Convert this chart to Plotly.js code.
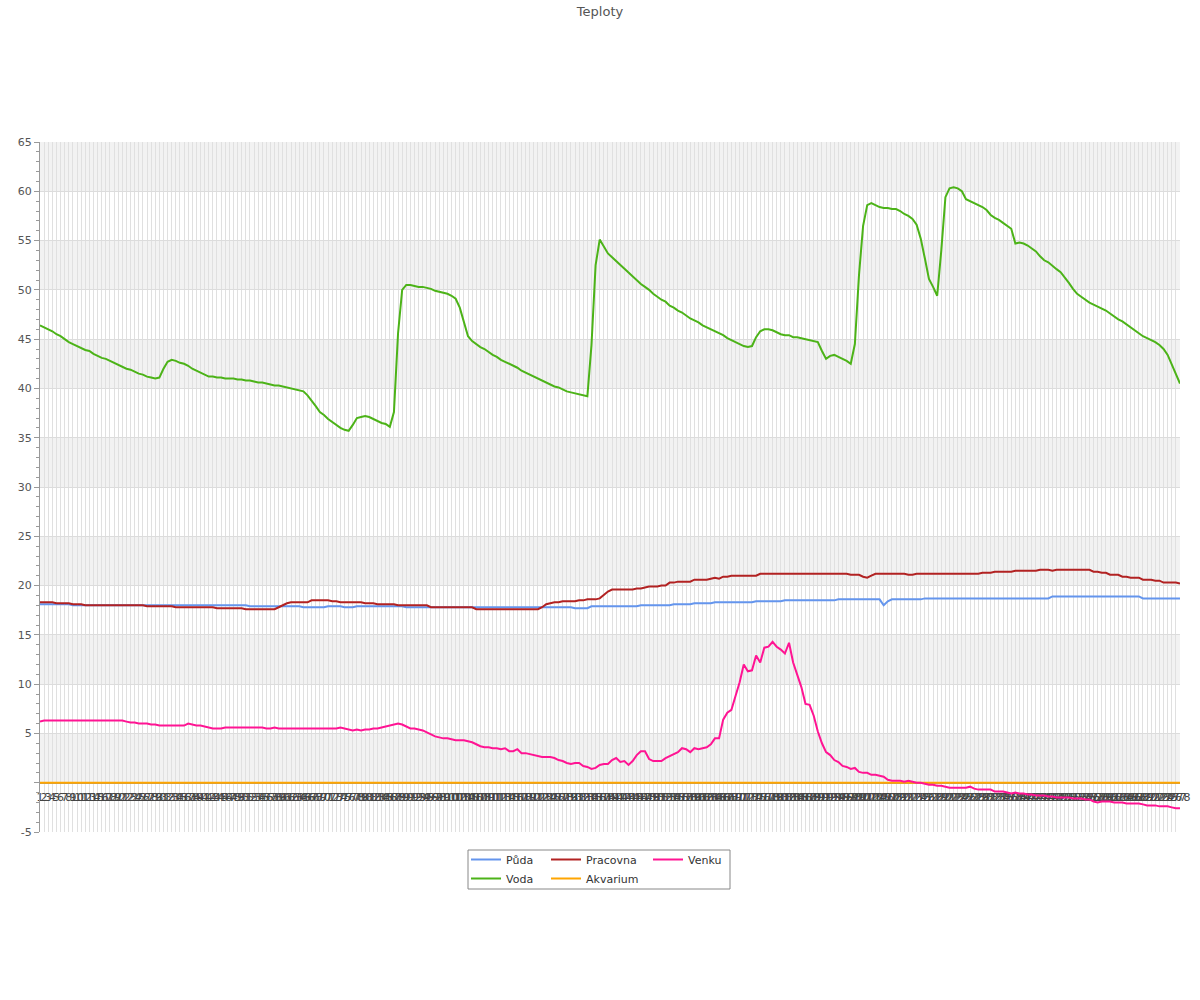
<!DOCTYPE html>
<html>
<head>
<meta charset="utf-8">
<script src="https://cdn.plot.ly/plotly-3.0.1.min.js"></script>
<style>html,body{margin:0;padding:0;background:#fff;}#chart{width:1200px;height:1000px;}</style>
</head>
<body>
<div id="chart"></div>
<script>
const seriesNames = ["Půda", "Voda", "Pracovna", "Akvarium", "Venku"];

const puda = [
18.1,18.1,18.1,18.1,18.1,18.1,18.1,18.1,18.0,18.0,
18.0,18.0,18.0,18.0,18.0,18.0,18.0,18.0,18.0,18.0,
18.0,18.0,18.0,18.0,18.0,18.0,18.0,18.0,18.0,18.0,
18.0,18.0,18.0,18.0,18.0,18.0,18.0,18.0,18.0,18.0,
18.0,18.0,18.0,18.0,18.0,18.0,18.0,18.0,18.0,18.0,
18.0,17.9,17.9,17.9,17.9,17.9,17.9,17.9,17.9,17.9,
17.9,17.9,17.9,17.9,17.8,17.8,17.8,17.8,17.8,17.8,
17.9,17.9,17.9,17.9,17.8,17.8,17.8,17.9,17.9,17.9,
17.9,17.9,17.9,17.9,17.9,17.9,17.9,17.9,17.9,17.8,
17.8,17.8,17.8,17.8,17.8,17.8,17.8,17.8,17.8,17.8,
17.8,17.8,17.8,17.8,17.8,17.8,17.8,17.8,17.8,17.8,
17.8,17.8,17.8,17.8,17.8,17.8,17.8,17.8,17.8,17.8,
17.8,17.8,17.8,17.8,17.8,17.8,17.8,17.8,17.8,17.8,
17.7,17.7,17.7,17.7,17.9,17.9,17.9,17.9,17.9,17.9,
17.9,17.9,17.9,17.9,17.9,17.9,18.0,18.0,18.0,18.0,
18.0,18.0,18.0,18.0,18.1,18.1,18.1,18.1,18.1,18.2,
18.2,18.2,18.2,18.2,18.3,18.3,18.3,18.3,18.3,18.3,
18.3,18.3,18.3,18.3,18.4,18.4,18.4,18.4,18.4,18.4,
18.4,18.5,18.5,18.5,18.5,18.5,18.5,18.5,18.5,18.5,
18.5,18.5,18.5,18.5,18.6,18.6,18.6,18.6,18.6,18.6,
18.6,18.6,18.6,18.6,18.6,18.0,18.4,18.6,18.6,18.6,
18.6,18.6,18.6,18.6,18.6,18.7,18.7,18.7,18.7,18.7,
18.7,18.7,18.7,18.7,18.7,18.7,18.7,18.7,18.7,18.7,
18.7,18.7,18.7,18.7,18.7,18.7,18.7,18.7,18.7,18.7,
18.7,18.7,18.7,18.7,18.7,18.7,18.9,18.9,18.9,18.9,
18.9,18.9,18.9,18.9,18.9,18.9,18.9,18.9,18.9,18.9,
18.9,18.9,18.9,18.9,18.9,18.9,18.9,18.9,18.7,18.7,
18.7,18.7,18.7,18.7,18.7,18.7,18.7,18.7
];

const voda = [
46.4,46.2,46.0,45.8,45.5,45.3,45.0,44.7,44.5,44.3,
44.1,43.9,43.8,43.5,43.3,43.1,43.0,42.8,42.6,42.4,
42.2,42.0,41.9,41.7,41.5,41.4,41.2,41.1,41.0,41.1,
42.0,42.7,42.9,42.8,42.6,42.5,42.3,42.0,41.8,41.6,
41.4,41.2,41.2,41.1,41.1,41.0,41.0,41.0,40.9,40.9,
40.8,40.8,40.7,40.6,40.6,40.5,40.4,40.3,40.3,40.2,
40.1,40.0,39.9,39.8,39.7,39.3,38.8,38.2,37.6,37.3,
36.9,36.6,36.3,36.0,35.8,35.7,36.3,37.0,37.1,37.2,
37.1,36.9,36.7,36.5,36.4,36.1,37.6,45.6,50.0,50.5,
50.5,50.4,50.3,50.3,50.2,50.1,49.9,49.8,49.7,49.6,
49.4,49.1,48.2,46.8,45.3,44.8,44.5,44.2,44.0,43.7,
43.4,43.2,42.9,42.7,42.5,42.3,42.1,41.8,41.6,41.4,
41.2,41.0,40.8,40.6,40.4,40.2,40.1,39.9,39.7,39.6,
39.5,39.4,39.3,39.2,44.4,52.5,55.1,54.4,53.7,53.3,
52.9,52.5,52.1,51.7,51.3,50.9,50.6,50.3,50.0,49.6,
49.3,49.0,48.8,48.4,48.2,47.9,47.7,47.4,47.1,46.9,
46.7,46.4,46.2,46.0,45.8,45.6,45.4,45.1,44.9,44.7,
44.5,44.3,44.2,44.3,45.2,45.8,46.0,46.0,45.9,45.7,
45.5,45.4,45.4,45.2,45.2,45.1,45.0,44.9,44.8,44.7,
43.8,43.0,43.3,43.4,43.2,43.0,42.8,42.5,44.5,51.5,
56.5,58.6,58.8,58.6,58.4,58.3,58.3,58.2,58.2,58.0,
57.7,57.5,57.2,56.6,55.2,53.2,51.1,50.3,49.4,54.0,
59.4,60.3,60.4,60.3,60.0,59.2,59.0,58.8,58.6,58.4,
58.1,57.6,57.3,57.1,56.8,56.5,56.2,54.7,54.8,54.7,
54.5,54.2,53.9,53.4,53.0,52.8,52.4,52.1,51.8,51.3,
50.7,50.1,49.6,49.3,49.0,48.7,48.5,48.3,48.1,47.9,
47.6,47.3,47.0,46.8,46.5,46.2,45.9,45.6,45.3,45.1,
44.9,44.7,44.4,44.0,43.4,42.4,41.5,40.5
];

const pracovna = [
18.3,18.3,18.3,18.3,18.2,18.2,18.2,18.2,18.1,18.1,
18.1,18.0,18.0,18.0,18.0,18.0,18.0,18.0,18.0,18.0,
18.0,18.0,18.0,18.0,18.0,18.0,17.9,17.9,17.9,17.9,
17.9,17.9,17.9,17.8,17.8,17.8,17.8,17.8,17.8,17.8,
17.8,17.8,17.8,17.7,17.7,17.7,17.7,17.7,17.7,17.7,
17.6,17.6,17.6,17.6,17.6,17.6,17.6,17.6,17.8,18.0,
18.2,18.3,18.3,18.3,18.3,18.3,18.5,18.5,18.5,18.5,
18.5,18.4,18.4,18.3,18.3,18.3,18.3,18.3,18.3,18.2,
18.2,18.2,18.1,18.1,18.1,18.1,18.1,18.0,18.0,18.0,
18.0,18.0,18.0,18.0,18.0,17.8,17.8,17.8,17.8,17.8,
17.8,17.8,17.8,17.8,17.8,17.8,17.6,17.6,17.6,17.6,
17.6,17.6,17.6,17.6,17.6,17.6,17.6,17.6,17.6,17.6,
17.6,17.6,17.8,18.1,18.2,18.3,18.3,18.4,18.4,18.4,
18.4,18.5,18.5,18.6,18.6,18.6,18.7,19.1,19.4,19.6,
19.6,19.6,19.6,19.6,19.6,19.7,19.7,19.8,19.9,19.9,
19.9,20.0,20.0,20.3,20.3,20.4,20.4,20.4,20.4,20.6,
20.6,20.6,20.6,20.7,20.8,20.7,20.9,20.9,21.0,21.0,
21.0,21.0,21.0,21.0,21.0,21.2,21.2,21.2,21.2,21.2,
21.2,21.2,21.2,21.2,21.2,21.2,21.2,21.2,21.2,21.2,
21.2,21.2,21.2,21.2,21.2,21.2,21.2,21.1,21.1,21.1,
20.9,20.8,21.0,21.2,21.2,21.2,21.2,21.2,21.2,21.2,
21.2,21.1,21.1,21.2,21.2,21.2,21.2,21.2,21.2,21.2,
21.2,21.2,21.2,21.2,21.2,21.2,21.2,21.2,21.2,21.3,
21.3,21.3,21.4,21.4,21.4,21.4,21.4,21.5,21.5,21.5,
21.5,21.5,21.5,21.6,21.6,21.6,21.5,21.6,21.6,21.6,
21.6,21.6,21.6,21.6,21.6,21.6,21.4,21.4,21.3,21.3,
21.1,21.1,21.1,20.9,20.9,20.8,20.8,20.8,20.6,20.6,
20.6,20.5,20.5,20.3,20.3,20.3,20.3,20.2
];

const akvarium = [
0,0,0,0,0,0,0,0,0,0, 0,0,0,0,0,0,0,0,0,0, 0,0,0,0,0,0,0,0,0,0,
0,0,0,0,0,0,0,0,0,0, 0,0,0,0,0,0,0,0,0,0, 0,0,0,0,0,0,0,0,0,0,
0,0,0,0,0,0,0,0,0,0, 0,0,0,0,0,0,0,0,0,0, 0,0,0,0,0,0,0,0,0,0,
0,0,0,0,0,0,0,0,0,0, 0,0,0,0,0,0,0,0,0,0, 0,0,0,0,0,0,0,0,0,0,
0,0,0,0,0,0,0,0,0,0, 0,0,0,0,0,0,0,0,0,0, 0,0,0,0,0,0,0,0,0,0,
0,0,0,0,0,0,0,0,0,0, 0,0,0,0,0,0,0,0,0,0, 0,0,0,0,0,0,0,0,0,0,
0,0,0,0,0,0,0,0,0,0, 0,0,0,0,0,0,0,0,0,0, 0,0,0,0,0,0,0,0,0,0,
0,0,0,0,0,0,0,0,0,0, 0,0,0,0,0,0,0,0,0,0, 0,0,0,0,0,0,0,0,0,0,
0,0,0,0,0,0,0,0,0,0, 0,0,0,0,0,0,0,0,0,0, 0,0,0,0,0,0,0,0,0,0,
0,0,0,0,0,0,0,0
];

const venku = [
6.2,6.3,6.3,6.3,6.3,6.3,6.3,6.3,6.3,6.3,
6.3,6.3,6.3,6.3,6.3,6.3,6.3,6.3,6.3,6.3,
6.3,6.2,6.1,6.1,6.0,6.0,6.0,5.9,5.9,5.8,
5.8,5.8,5.8,5.8,5.8,5.8,6.0,5.9,5.8,5.8,
5.7,5.6,5.5,5.5,5.5,5.6,5.6,5.6,5.6,5.6,
5.6,5.6,5.6,5.6,5.6,5.5,5.5,5.6,5.5,5.5,
5.5,5.5,5.5,5.5,5.5,5.5,5.5,5.5,5.5,5.5,
5.5,5.5,5.5,5.6,5.5,5.4,5.3,5.4,5.3,5.4,
5.4,5.5,5.5,5.6,5.7,5.8,5.9,6.0,5.9,5.7,
5.5,5.5,5.4,5.3,5.1,4.9,4.7,4.6,4.5,4.5,
4.4,4.3,4.3,4.3,4.2,4.1,3.9,3.7,3.6,3.6,
3.5,3.5,3.4,3.5,3.2,3.2,3.4,3.0,3.0,2.9,
2.8,2.7,2.6,2.6,2.6,2.5,2.3,2.2,2.0,1.9,
2.0,2.0,1.7,1.6,1.4,1.5,1.8,1.9,1.9,2.3,
2.5,2.1,2.2,1.8,2.2,2.8,3.2,3.2,2.4,2.2,
2.2,2.2,2.5,2.7,2.9,3.1,3.5,3.4,3.1,3.5,
3.4,3.5,3.6,3.9,4.5,4.5,6.4,7.1,7.4,8.8,
10.2,12.0,11.3,11.4,12.9,12.2,13.7,13.8,14.3,13.8,
13.5,13.1,14.2,12.2,11.0,9.7,8.0,7.9,6.8,5.2,
4.0,3.1,2.8,2.3,2.1,1.7,1.6,1.4,1.5,1.1,
1.0,1.0,0.8,0.8,0.7,0.6,0.3,0.2,0.2,0.2,
0.1,0.2,0.1,0.0,0.0,-0.1,-0.2,-0.2,-0.3,-0.3,
-0.4,-0.5,-0.5,-0.5,-0.5,-0.5,-0.4,-0.6,-0.7,-0.7,
-0.7,-0.7,-0.9,-0.9,-0.9,-1.0,-1.1,-1.0,-1.1,-1.1,
-1.2,-1.2,-1.3,-1.3,-1.3,-1.4,-1.4,-1.5,-1.5,-1.5,
-1.5,-1.6,-1.6,-1.6,-1.7,-1.7,-1.9,-2.0,-1.9,-1.9,
-1.9,-2.0,-2.0,-2.0,-2.1,-2.1,-2.1,-2.1,-2.2,-2.3,
-2.3,-2.3,-2.4,-2.4,-2.4,-2.5,-2.6,-2.6
];

// category labels 1..N (one per reading)
const categories = voda.map((_, i) => i + 1);
const yTickVals = [-5, 0, 5, 10, 15, 20, 25, 30, 35, 40, 45, 50, 55, 60, 65];
const yTickText = ["-5", "", "5", "10", "15", "20", "25", "30", "35", "40", "45", "50", "55", "60", "65"];
const bandStarts = [0, 10, 20, 30, 40, 50, 60];

const colors = {
  "Půda": "#6495ED",
  "Voda": "#4CB318",
  "Pracovna": "#B22222",
  "Akvarium": "#FFA500",
  "Venku": "#FF1493"
};

function line(name, y, legendId) {
  return {
    type: "scatter", mode: "lines", name: name, x: categories, y: y,
    line: {color: colors[name], width: 2}, legend: legendId, hoverinfo: "skip"
  };
}

const data = [
  line("Půda", puda, "legend"),
  line("Voda", voda, "legend"),
  line("Pracovna", pracovna, "legend2"),
  line("Akvarium", akvarium, "legend2"),
  line("Venku", venku, "legend3")
];

const W = 1140, H = 690, L = 40, B = 168, T = 142;
function px2x(p) { return (p - L) / W; }
function py2y(p) { return (T + H - p) / H; }

const shapes = bandStarts.map(b => ({
  type: "rect", xref: "paper", yref: "y", x0: 0, x1: 1, y0: b, y1: b + 5,
  fillcolor: "#f2f2f2", line: {width: 0}, layer: "below"
}));
shapes.push({
  type: "rect", xref: "paper", yref: "paper",
  x0: px2x(468), x1: px2x(730), y0: py2y(850), y1: py2y(889),
  line: {color: "#888", width: 1}, fillcolor: "rgba(0,0,0,0)", layer: "above"
});

const legendFont = {family: "DejaVu Sans", size: 11, color: "#333"};
function legendAt(pxLeft) {
  return {
    x: px2x(pxLeft), y: py2y(845), xanchor: "left", yanchor: "top",
    orientation: "v", bgcolor: "rgba(0,0,0,0)", borderwidth: 0,
    font: legendFont, itemwidth: 30
  };
}

const layout = {
  width: 1200, height: 1000,
  margin: {l: L, r: 20, t: T, b: B, pad: 0},
  paper_bgcolor: "#fff", plot_bgcolor: "#fff",
  font: {family: "DejaVu Sans", size: 11, color: "#444"},
  title: {text: "Teploty", x: 0.5, xanchor: "center", y: 0.989, yanchor: "middle",
          yref: "container", font: {family: "DejaVu Sans", size: 13, color: "#555"}},
  showlegend: true,
  legend: legendAt(466),
  legend2: legendAt(546),
  legend3: legendAt(648),
  xaxis: {
    range: [1, categories.length], tickmode: "linear", tick0: 1, dtick: 1,
    tickangle: 0, showgrid: true, gridcolor: "#e0e0e0", gridwidth: 1,
    zeroline: false, anchor: "free", position: 5 / 70,
    showline: true, linecolor: "#999", linewidth: 2, ticks: "",
    ticklabelstandoff: 4,
    tickfont: {family: "DejaVu Sans", size: 11, color: "#444"},
    layer: "below traces", fixedrange: true
  },
  yaxis: {
    range: [-5, 65], tickmode: "array", tickvals: yTickVals, ticktext: yTickText,
    ticks: "outside", ticklen: 5, tickcolor: "#999", tickwidth: 1,
    showline: true, linecolor: "#999", linewidth: 1,
    showgrid: true, gridcolor: "#dcdcdc", gridwidth: 1, zeroline: false,
    tickfont: {family: "DejaVu Sans", size: 11, color: "#555"},
    minor: {tickmode: "linear", tick0: -5, dtick: 1, ticks: "outside", ticklen: 3,
            tickcolor: "#999", showgrid: false},
    fixedrange: true
  },
  shapes: shapes
};

Plotly.newPlot("chart", data, layout, {displayModeBar: false, staticPlot: true});
</script>
</body>
</html>
